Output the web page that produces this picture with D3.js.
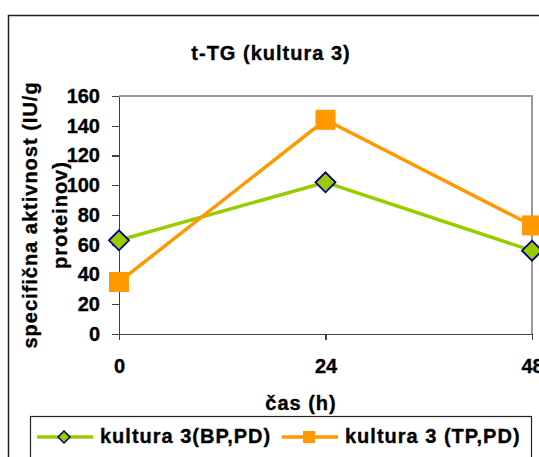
<!DOCTYPE html>
<html>
<meta charset="utf-8">
<style>
  body { margin: 0; background: #fff; }
  svg { display: block; font-family: "Liberation Sans", Arial, sans-serif; font-weight: bold; }
  svg text { stroke: #000; stroke-width: 0.35px; }
  .axis path, .axis line { stroke: #404040; stroke-width: 1.2; shape-rendering: crispEdges; }
  .axis text { font-size: 20px; font-weight: bold; fill: #000; font-family: "Liberation Sans", Arial, sans-serif; }
  .lbl { letter-spacing: 1px; }
</style>
<body>
  <svg width="539" height="457"></svg>
</body>

<script src="https://cdn.jsdelivr.net/npm/d3@7"></script>

<script>

var hours = [0, 24, 48];
var bpValues = [63, 102, 56];
var tpValues = [35, 144, 73];
var yTicks = [0, 20, 40, 60, 80, 100, 120, 140, 160];
var seriesNames = ["kultura 3(BP,PD)", "kultura 3 (TP,PD)"];

var plot = {left: 119, right: 532, top: 96, bottom: 334};

var svg = d3.select("svg");

// outer chart frame (runs off the picture on the right and bottom)
svg.append("rect")
  .attr("x", 8.5).attr("y", 15.5)
  .attr("width", 600).attr("height", 600)
  .attr("fill", "#fff").attr("stroke", "#222").attr("stroke-width", 1.5);

var xScale = d3.scaleLinear()
  .domain([0, 48])
  .range([plot.left, plot.right]);

var yScale = d3.scaleLinear()
  .domain([0, 160])
  .range([plot.bottom, plot.top]);

// top and right border of plot area
svg.append("path")
  .attr("d", "M" + plot.left + "," + plot.top + "H" + plot.right + "V" + plot.bottom)
  .attr("fill", "none").attr("stroke", "#999").attr("stroke-width", 1.5)
  .style("shape-rendering", "crispEdges");

var yAxis = d3.axisLeft(yScale).tickValues(yTicks).tickSize(7).tickSizeOuter(0).tickPadding(12);
var xAxis = d3.axisBottom(xScale).tickValues(hours).tickSize(6).tickSizeOuter(0).tickPadding(19);

svg.append("g")
  .attr("class", "y axis")
  .attr("transform", "translate(" + plot.left + ",0)")
  .call(yAxis);

svg.append("g")
  .attr("class", "x axis")
  .attr("transform", "translate(0," + plot.bottom + ")")
  .call(xAxis);

var line = d3.line()
  .x(function(d, i) { return xScale(hours[i]); })
  .y(function(d) { return yScale(d); });

var green = "#99CC00", navy = "#000080", orange = "#FF9900";

svg.append("path").datum(bpValues)
  .attr("d", line).attr("fill", "none").attr("stroke", green).attr("stroke-width", 3.5);

svg.append("path").datum(tpValues)
  .attr("d", line).attr("fill", "none").attr("stroke", orange).attr("stroke-width", 3.5);

var diamond = function(r) { return "M0," + (-r) + "L" + r + ",0L0," + r + "L" + (-r) + ",0Z"; };

svg.selectAll(".bp").data(bpValues).enter().append("path")
  .attr("class", "bp")
  .attr("transform", function(d, i) { return "translate(" + xScale(hours[i]) + "," + yScale(d) + ")"; })
  .attr("d", diamond(10))
  .attr("fill", green).attr("stroke", navy).attr("stroke-width", 1.8);

svg.selectAll(".tp").data(tpValues).enter().append("rect")
  .attr("class", "tp")
  .attr("x", function(d, i) { return xScale(hours[i]) - 10; })
  .attr("y", function(d) { return yScale(d) - 10; })
  .attr("width", 20).attr("height", 20)
  .attr("fill", orange);

// titles
svg.append("text").attr("class", "lbl")
  .attr("x", 271).attr("y", 60)
  .attr("text-anchor", "middle").attr("font-size", 20)
  .text("t-TG (kultura 3)");

svg.append("text").attr("class", "lbl")
  .attr("x", 301).attr("y", 410)
  .attr("text-anchor", "middle").attr("font-size", 20)
  .text("čas (h)");

var yTitle = svg.append("text").attr("class", "lbl")
  .attr("transform", "translate(0,215) rotate(-90)")
  .attr("text-anchor", "middle").attr("font-size", 20);
yTitle.append("tspan").attr("x", 0).attr("y", 37).text("specifična aktivnost (IU/g");
yTitle.append("tspan").attr("x", 0).attr("y", 67).text("proteinov)");

// legend
svg.append("rect")
  .attr("x", 30.5).attr("y", 416.5)
  .attr("width", 501).attr("height", 80)
  .attr("fill", "#fff").attr("stroke", "#222").attr("stroke-width", 1.2);

var legendX = [37, 282];
var legendColors = [green, orange];
var ly = 437;

var leg = svg.selectAll(".leg").data(seriesNames).enter().append("g")
  .attr("class", "leg")
  .attr("transform", function(d, i) { return "translate(" + legendX[i] + "," + ly + ")"; });

leg.append("line")
  .attr("x1", 0).attr("x2", 56).attr("y1", 0).attr("y2", 0)
  .attr("stroke", function(d, i) { return legendColors[i]; })
  .attr("stroke-width", 3.5);

leg.filter(function(d, i) { return i === 0; }).append("path")
  .attr("transform", "translate(27,0)")
  .attr("d", diamond(6))
  .attr("fill", green).attr("stroke", navy).attr("stroke-width", 1.5);

leg.filter(function(d, i) { return i === 1; }).append("rect")
  .attr("x", 21).attr("y", -6).attr("width", 12).attr("height", 12)
  .attr("fill", orange);

leg.append("text").attr("class", "lbl")
  .attr("x", 63).attr("y", 6)
  .attr("font-size", 20)
  .text(function(d) { return d; });

</script>
</html>
